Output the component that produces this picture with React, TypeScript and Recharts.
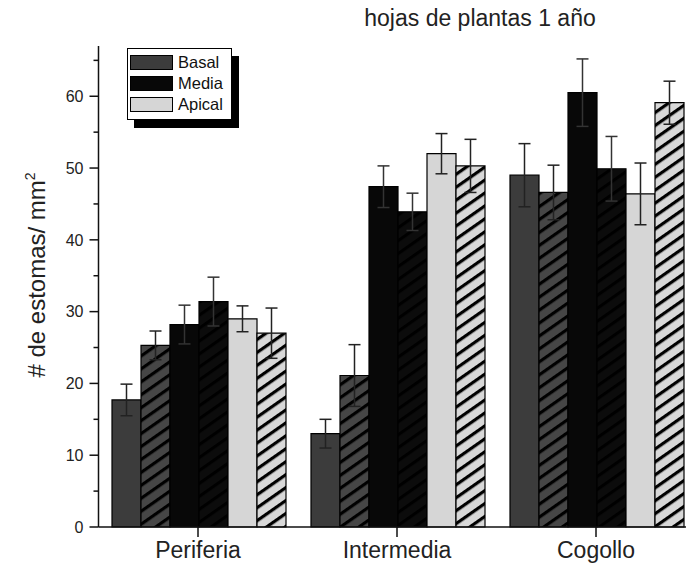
import { BarChart, Bar, XAxis, YAxis, ErrorBar, Legend } from 'recharts';

const categories = ['Periferia', 'Intermedia', 'Cogollo'];
const basal = [17.7, 13.0, 49.0];
const basalHatched = [25.3, 21.1, 46.6];
const media = [28.2, 47.4, 60.5];
const mediaHatched = [31.4, 43.9, 49.9];
const apical = [29.0, 52.0, 46.4];
const apicalHatched = [27.0, 50.3, 59.1];

const basalErr = [2.2, 2.0, 4.4];
const basalHatchedErr = [2.0, 4.3, 3.8];
const mediaErr = [2.7, 2.9, 4.7];
const mediaHatchedErr = [3.4, 2.6, 4.5];
const apicalErr = [1.8, 2.8, 4.3];
const apicalHatchedErr = [3.5, 3.7, 3.0];

const yTicks = [0, 5, 10, 15, 20, 25, 30, 35, 40, 45, 50, 55, 60, 65];
const legendItems = [
  { name: 'Basal', color: '#3c3c3c' },
  { name: 'Media', color: '#080808' },
  { name: 'Apical', color: '#d6d6d6' },
];

const data = categories.map((c, i) => ({
  name: c,
  basal: basal[i],
  basalH: basalHatched[i],
  media: media[i],
  mediaH: mediaHatched[i],
  apical: apical[i],
  apicalH: apicalHatched[i],
  basalErr: basalErr[i],
  basalHErr: basalHatchedErr[i],
  mediaErr: mediaErr[i],
  mediaHErr: mediaHatchedErr[i],
  apicalErr: apicalErr[i],
  apicalHErr: apicalHatchedErr[i],
}));

const FONT = '"Liberation Sans", Arial, sans-serif';
const TICK = 9;
const MARGIN = 6;

// major ticks get a label, minor ones only a short line
const YTick = ({ x, y, payload }: any) => {
  const major = payload.value % 10 === 0;
  const axisX = x + TICK + MARGIN;
  return (
    <g>
      <line x1={axisX - (major ? TICK : 5)} x2={axisX} y1={y} y2={y} stroke="#111" strokeWidth={1.5} />
      {major && (
        <text x={x} y={y} dy="0.36em" textAnchor="end" fontSize={16} fill="#222" fontFamily={FONT}>
          {payload.value}
        </text>
      )}
    </g>
  );
};

const YLabel = () => (
  <text
    x={45}
    y={275}
    transform="rotate(-90, 45, 275)"
    textAnchor="middle"
    fontSize={24}
    fill="#222"
    fontFamily={FONT}
  >
    # de estomas/ mm<tspan dy={-10} fontSize={14}>2</tspan>
  </text>
);

const LegendBox = () => (
  <div style={{ position: 'relative', width: 112, height: 80, fontFamily: FONT }}>
    <div style={{ position: 'absolute', left: 7, top: 8, width: 105, height: 72, background: '#000' }} />
    <div
      style={{
        position: 'absolute',
        left: 0,
        top: 0,
        width: 105,
        height: 72,
        boxSizing: 'border-box',
        border: '1.5px solid #000',
        background: '#fff',
      }}
    >
      {legendItems.map((item, i) => (
        <div key={item.name} style={{ position: 'absolute', left: 2, top: 6 + i * 21, display: 'flex', alignItems: 'center' }}>
          <div
            style={{
              width: 43,
              height: 15,
              boxSizing: 'border-box',
              border: '1.5px solid #000',
              background: item.color,
            }}
          />
          <span style={{ marginLeft: 5, fontSize: 16.5, color: '#111', lineHeight: '15px' }}>{item.name}</span>
        </div>
      ))}
    </div>
  </div>
);

const hatch = (id: string, bg: string) => (
  <pattern id={id} width={10.6} height={10.6} patternUnits="userSpaceOnUse" patternTransform="rotate(55)">
    <rect width={10.6} height={10.6} fill={bg} />
    <rect x={0} y={0} width={3.2} height={10.6} fill="#000" />
  </pattern>
);

const App = () => {
  return (
    <div style={{ position: 'absolute', left: 0, top: 0, width: 686, height: 570, overflow: 'hidden', background: '#fff' }}>
      <BarChart
        width={700}
        height={570}
        data={data}
        margin={{ top: 46, right: 4.5, bottom: 0, left: 0 }}
        barGap={0}
        barCategoryGap={13.5}
      >
        <defs>
          {hatch('basalHatch', '#464646')}
          {hatch('mediaHatch', '#0c0c0c')}
          {hatch('apicalHatch', '#d8d8d8')}
        </defs>
        <text x={480} y={26} textAnchor="middle" fontSize={23} fill="#222" fontFamily={FONT}>
          hojas de plantas 1 año
        </text>
        <XAxis
          dataKey="name"
          height={43}
          stroke="#111"
          strokeWidth={1.5}
          tickSize={10}
          tickMargin={5}
          tick={{ fontSize: 23, fill: '#222', fontFamily: FONT }}
        />
        <YAxis
          width={98.5}
          domain={[0, 67]}
          ticks={yTicks}
          interval={0}
          stroke="#111"
          strokeWidth={1.5}
          tickSize={TICK}
          tickMargin={MARGIN}
          tickLine={false}
          tick={<YTick />}
          label={<YLabel />}
        />
        <Legend
          layout="vertical"
          align="center"
          verticalAlign="middle"
          content={<LegendBox />}
          wrapperStyle={{ position: 'absolute', left: 127, top: 48, width: 112, height: 80 }}
        />
        <Bar dataKey="basal" fill="#3c3c3c" stroke="#000" strokeWidth={1.2} isAnimationActive={false}>
          <ErrorBar dataKey="basalErr" width={6} stroke="#222" strokeWidth={1.5} />
        </Bar>
        <Bar dataKey="basalH" fill="url(#basalHatch)" stroke="#000" strokeWidth={1.2} isAnimationActive={false}>
          <ErrorBar dataKey="basalHErr" width={6} stroke="#222" strokeWidth={1.5} />
        </Bar>
        <Bar dataKey="media" fill="#080808" stroke="#000" strokeWidth={1.2} isAnimationActive={false}>
          <ErrorBar dataKey="mediaErr" width={6} stroke="#333" strokeWidth={1.5} />
        </Bar>
        <Bar dataKey="mediaH" fill="url(#mediaHatch)" stroke="#000" strokeWidth={1.2} isAnimationActive={false}>
          <ErrorBar dataKey="mediaHErr" width={6} stroke="#333" strokeWidth={1.5} />
        </Bar>
        <Bar dataKey="apical" fill="#d6d6d6" stroke="#000" strokeWidth={1.2} isAnimationActive={false}>
          <ErrorBar dataKey="apicalErr" width={6} stroke="#222" strokeWidth={1.5} />
        </Bar>
        <Bar dataKey="apicalH" fill="url(#apicalHatch)" stroke="#000" strokeWidth={1.2} isAnimationActive={false}>
          <ErrorBar dataKey="apicalHErr" width={6} stroke="#222" strokeWidth={1.5} />
        </Bar>
      </BarChart>
    </div>
  );
};

export default App;
